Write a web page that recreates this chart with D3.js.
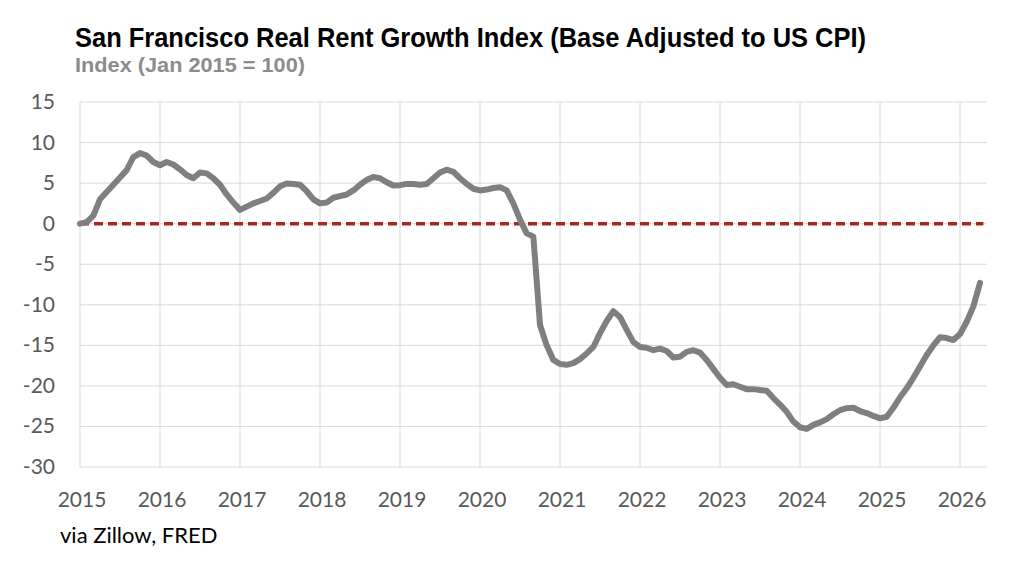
<!DOCTYPE html>
<html>
<head>
<meta charset="utf-8">
<script src="https://cdn.jsdelivr.net/npm/d3@7"></script>
<style>
  html, body { margin: 0; padding: 0; background: #fff; }
  svg { display: block; }
  .title { font-family: "Liberation Sans", Arial, sans-serif; font-weight: bold; }
  .lbl { font-family: Lato, "Open Sans", sans-serif; }
</style>
</head>
<body>
<script>
// ---- data ----
const titleText = "San Francisco Real Rent Growth Index (Base Adjusted to US CPI)";
const subtitleText = "Index (Jan 2015 = 100)";
const sourceText = "via Zillow, FRED";
const yearLabels = ["2015","2016","2017","2018","2019","2020","2021","2022","2023","2024","2025","2026"];
const yTicks = [15, 10, 5, 0, -5, -10, -15, -20, -25, -30];
const baselineValue = 0;
// monthly values, Jan 2015 .. Apr 2026
const values = [
  0.0, 0.2, 1.0, 3.0, 3.9, 4.8, 5.7, 6.6, 8.2, 8.7, 8.4, 7.6,
  7.2, 7.6, 7.3, 6.7, 6.0, 5.6, 6.3, 6.2, 5.6, 4.8, 3.6, 2.6,
  1.7, 2.1, 2.5, 2.8, 3.1, 3.8, 4.6, 4.95, 4.9, 4.8, 4.0, 3.0,
  2.5, 2.6, 3.2, 3.4, 3.6, 4.1, 4.8, 5.4, 5.75, 5.6, 5.1, 4.7,
  4.75, 4.9, 4.9, 4.8, 4.9, 5.6, 6.3, 6.65, 6.4, 5.6, 4.9, 4.3,
  4.1, 4.2, 4.4, 4.5, 4.1, 2.5, 0.5, -1.2, -1.6, -12.5, -15.0, -16.8,
  -17.3, -17.4, -17.2, -16.7, -16.0, -15.2, -13.5, -12.0, -10.8, -11.5, -13.1, -14.6,
  -15.2, -15.3, -15.6, -15.4, -15.7, -16.5, -16.4, -15.8, -15.6, -15.9, -16.8, -17.9,
  -19.0, -19.9, -19.8, -20.1, -20.4, -20.4, -20.5, -20.6, -21.5, -22.3, -23.2, -24.4,
  -25.1, -25.3, -24.8, -24.5, -24.1, -23.5, -23.0, -22.75, -22.7, -23.1, -23.35, -23.7,
  -24.0, -23.8, -22.7, -21.4, -20.3, -19.0, -17.6, -16.2, -15.0, -14.0, -14.1, -14.35,
  -13.6, -12.1, -10.2, -7.3
];

// ---- layout ----
const W = 1016, H = 565;
const svg = d3.select("body").append("svg").attr("width", W).attr("height", H);

const x = d3.scaleLinear().domain([0, 136]).range([80, 986.7]);
const y = d3.scaleLinear().domain([-30, 15]).range([467, 102]);

// grid
const grid = svg.append("g");
grid.selectAll("line.h").data(yTicks).enter().append("line")
  .attr("x1", x(0)).attr("x2", x(136))
  .attr("y1", d => y(d)).attr("y2", d => y(d))
  .attr("stroke", "#d9d9d9").attr("stroke-width", 1);
grid.selectAll("line.v").data(yearLabels).enter().append("line")
  .attr("x1", (d, i) => x(i * 12)).attr("x2", (d, i) => x(i * 12))
  .attr("y1", y(15)).attr("y2", y(-30))
  .attr("stroke", "#d9d9d9").attr("stroke-width", 1);

// y labels
svg.append("g").selectAll("text").data(yTicks).enter().append("text")
  .attr("class", "lbl")
  .attr("x", 55).attr("y", d => y(d) + 7)
  .attr("text-anchor", "end")
  .attr("font-size", 21).attr("fill", "#595959")
  .text(d => d);

// x labels
svg.append("g").selectAll("text").data(yearLabels).enter().append("text")
  .attr("class", "lbl")
  .attr("x", (d, i) => x(i * 12) + 2).attr("y", 507)
  .attr("text-anchor", "middle")
  .attr("font-size", 21).attr("fill", "#595959")
  .text(d => d);

// zero dashed line
svg.append("line")
  .attr("x1", x(0)).attr("x2", x(135.5))
  .attr("y1", y(baselineValue)).attr("y2", y(baselineValue))
  .attr("stroke", "#a8261f").attr("stroke-width", 3.5)
  .attr("stroke-dasharray", "9,5");

// series line
const line = d3.line().x((d, i) => x(i)).y(d => y(d));
svg.append("path").datum(values)
  .attr("d", line)
  .attr("fill", "none")
  .attr("stroke", "#7f7f7f")
  .attr("stroke-width", 6)
  .attr("stroke-linejoin", "round")
  .attr("stroke-linecap", "round");

// titles
svg.append("text").attr("class", "title")
  .attr("x", 75).attr("y", 47)
  .attr("font-size", 28).attr("fill", "#000")
  .attr("textLength", 791).attr("lengthAdjust", "spacingAndGlyphs")
  .text(titleText);
svg.append("text").attr("class", "title")
  .attr("x", 75).attr("y", 72)
  .attr("font-size", 21).attr("fill", "#8c8c8c")
  .attr("textLength", 230).attr("lengthAdjust", "spacingAndGlyphs")
  .text(subtitleText);

// source
svg.append("text").attr("class", "lbl")
  .attr("x", 60).attr("y", 543)
  .attr("font-size", 22).attr("fill", "#000")
  .text(sourceText);
</script>
</body>
</html>
